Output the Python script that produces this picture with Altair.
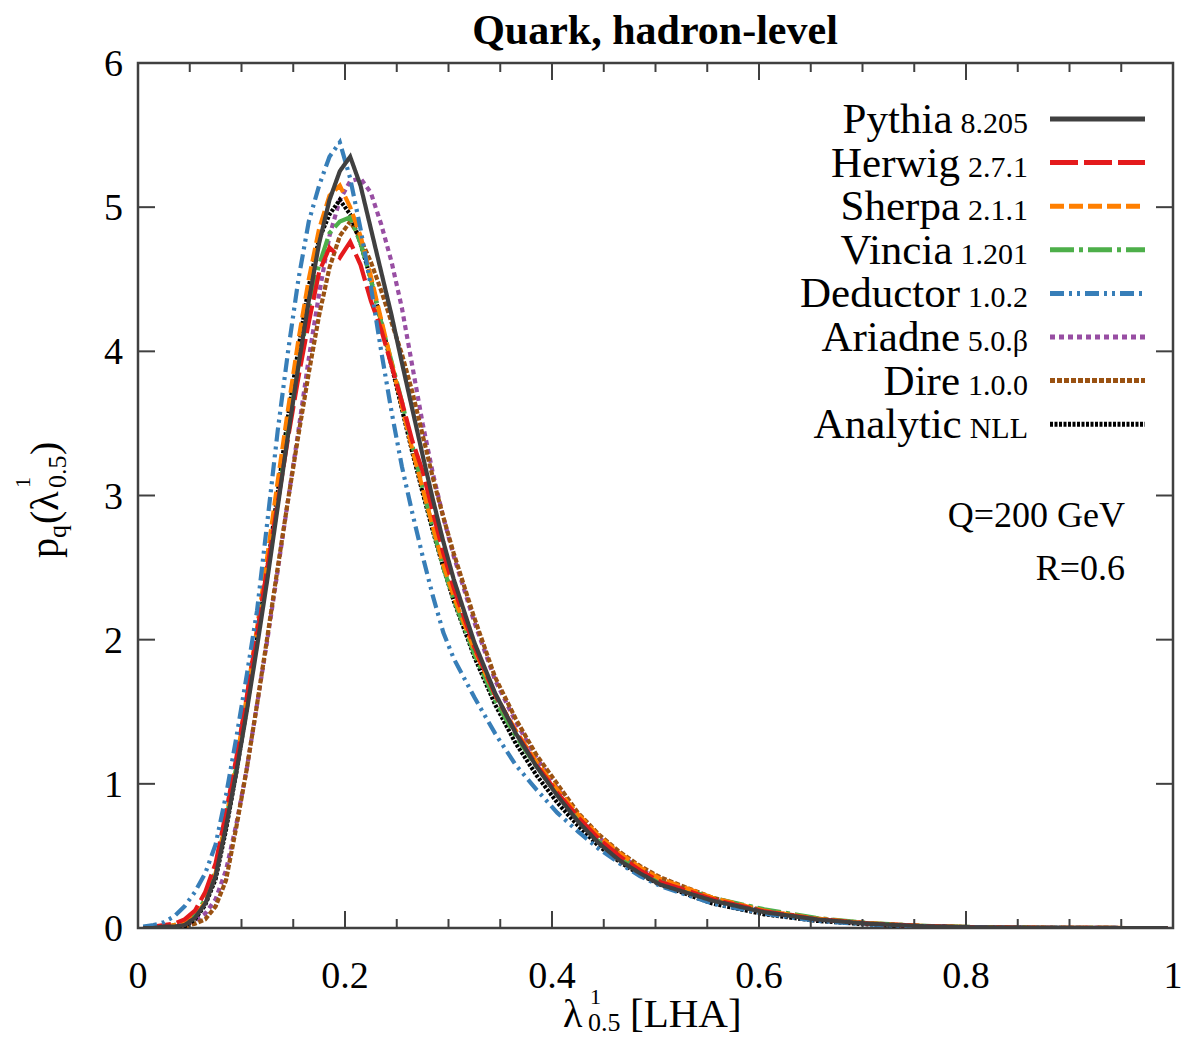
import altair as alt
import pandas as pd

# ---------------- data ----------------
X = [0.005, 0.015, 0.025, 0.035, 0.045, 0.055, 0.065, 0.075, 0.085, 0.095,
     0.105, 0.115, 0.125, 0.135, 0.145, 0.155, 0.165, 0.175, 0.185, 0.195,
     0.205, 0.215, 0.225, 0.235, 0.245, 0.255, 0.265, 0.275, 0.285, 0.295,
     0.305, 0.325, 0.345, 0.365, 0.385, 0.405, 0.425, 0.445, 0.465, 0.485,
     0.505, 0.555, 0.605, 0.655, 0.705, 0.755, 0.805, 0.855, 0.905, 0.955, 0.995]

PYTHIA = [0.0, 0.0, 0.01, 0.01, 0.02, 0.07, 0.17, 0.36, 0.70, 1.08,
          1.50, 1.95, 2.42, 2.92, 3.42, 3.90, 4.35, 4.75, 5.05, 5.25,
          5.35, 5.15, 4.85, 4.55, 4.25, 3.92, 3.60, 3.28, 2.97, 2.68,
          2.42, 1.98, 1.63, 1.35, 1.12, 0.92, 0.74, 0.59, 0.47, 0.38,
          0.30, 0.19, 0.11, 0.06, 0.03, 0.013, 0.005, 0.002, 0.001, 0.0, 0.0]
HERWIG = [0.0, 0.01, 0.02, 0.03, 0.06, 0.12, 0.25, 0.45, 0.80, 1.18,
          1.60, 2.05, 2.50, 2.95, 3.40, 3.82, 4.20, 4.55, 4.72, 4.65,
          4.76, 4.60, 4.35, 4.15, 3.90, 3.65, 3.38, 3.17, 2.88, 2.60,
          2.36, 1.95, 1.62, 1.36, 1.13, 0.94, 0.77, 0.62, 0.50, 0.40,
          0.32, 0.20, 0.115, 0.062, 0.031, 0.014, 0.006, 0.002, 0.001, 0.0, 0.0]
SHERPA = [0.0, 0.0, 0.01, 0.02, 0.03, 0.08, 0.18, 0.38, 0.75, 1.15,
          1.60, 2.08, 2.58, 3.10, 3.60, 4.08, 4.50, 4.85, 5.08, 5.15,
          5.00, 4.80, 4.52, 4.22, 3.92, 3.62, 3.32, 3.05, 2.78, 2.52,
          2.30, 1.93, 1.62, 1.37, 1.15, 0.96, 0.79, 0.64, 0.52, 0.42,
          0.34, 0.21, 0.12, 0.065, 0.033, 0.015, 0.006, 0.002, 0.001, 0.0, 0.0]
VINCIA = [0.0, 0.01, 0.01, 0.02, 0.04, 0.09, 0.20, 0.40, 0.75, 1.12,
          1.55, 2.00, 2.45, 2.95, 3.45, 3.90, 4.30, 4.60, 4.82, 4.90,
          4.93, 4.75, 4.50, 4.20, 3.93, 3.65, 3.35, 3.05, 2.77, 2.50,
          2.28, 1.90, 1.58, 1.33, 1.12, 0.93, 0.75, 0.60, 0.49, 0.40,
          0.32, 0.21, 0.13, 0.07, 0.035, 0.016, 0.007, 0.003, 0.001, 0.0, 0.0]
DEDUCTOR = [0.01, 0.02, 0.04, 0.08, 0.15, 0.25, 0.38, 0.58, 0.92, 1.32,
            1.75, 2.20, 2.82, 3.45, 4.00, 4.50, 4.90, 5.15, 5.35, 5.45,
            5.20, 4.85, 4.45, 4.00, 3.58, 3.20, 2.88, 2.58, 2.30, 2.05,
            1.87, 1.60, 1.35, 1.13, 0.96, 0.80, 0.67, 0.55, 0.45, 0.36,
            0.29, 0.17, 0.10, 0.05, 0.025, 0.01, 0.004, 0.001, 0.0, 0.0, 0.0]
ARIADNE = [0.0, 0.0, 0.0, 0.01, 0.02, 0.05, 0.10, 0.20, 0.40, 0.72,
           1.10, 1.55, 2.00, 2.48, 2.97, 3.45, 3.95, 4.40, 4.80, 5.05,
           5.18, 5.20, 5.10, 4.88, 4.62, 4.30, 3.90, 3.50, 3.15, 2.85,
           2.58, 2.12, 1.72, 1.43, 1.18, 0.97, 0.78, 0.63, 0.51, 0.41,
           0.33, 0.20, 0.115, 0.062, 0.031, 0.014, 0.006, 0.002, 0.001, 0.0, 0.0]
DIRE = [0.0, 0.0, 0.0, 0.0, 0.01, 0.03, 0.06, 0.15, 0.33, 0.70,
        1.10, 1.55, 2.02, 2.50, 2.97, 3.42, 3.85, 4.25, 4.58, 4.80,
        4.90, 4.78, 4.62, 4.42, 4.20, 3.98, 3.72, 3.42, 3.12, 2.85,
        2.60, 2.15, 1.74, 1.45, 1.20, 1.00, 0.80, 0.65, 0.53, 0.43,
        0.35, 0.21, 0.12, 0.065, 0.033, 0.015, 0.006, 0.002, 0.001, 0.0, 0.0]
ANALYTIC = [0.0, 0.0, 0.0, 0.0, 0.01, 0.06, 0.16, 0.34, 0.68, 1.08,
            1.52, 2.00, 2.50, 3.02, 3.55, 4.02, 4.45, 4.78, 4.95, 5.05,
            4.95, 4.75, 4.50, 4.20, 3.90, 3.60, 3.30, 3.02, 2.75, 2.50,
            2.27, 1.88, 1.55, 1.28, 1.06, 0.87, 0.71, 0.57, 0.46, 0.37,
            0.30, 0.17, 0.095, 0.05, 0.025, 0.011, 0.004, 0.001, 0.0, 0.0, 0.0]

NAMES = ["Pythia", "Herwig", "Sherpa", "Vincia", "Deductor", "Ariadne", "Dire", "Analytic"]
VERSIONS = ["8.205", "2.7.1", "2.1.1", "1.201", "1.0.2", "5.0.β", "1.0.0", "NLL"]
VALUES = [PYTHIA, HERWIG, SHERPA, VINCIA, DEDUCTOR, ARIADNE, DIRE, ANALYTIC]

X_MAJOR = [0, 0.2, 0.4, 0.6, 0.8, 1.0]
X_MINOR = [0.05, 0.1, 0.15, 0.25, 0.3, 0.35, 0.45, 0.5, 0.55, 0.65, 0.7, 0.75, 0.85, 0.9, 0.95]
Y_MAJOR = [0, 1, 2, 3, 4, 5, 6]

TITLE = "Quark, hadron-level"
NOTES = ["Q=200 GeV", "R=0.6"]

# ---------------- style ----------------
COLORS = ["#404040", "#e41a1c", "#ff7f00", "#4daf4a", "#377eb8", "#984ea3", "#9a5212", "#000000"]
DASHES = [[1, 0], [28, 6], [14, 5], [24, 5, 4, 5], [14, 5, 3, 5, 3, 5], [5, 4], [5, 2], [3, 1.5]]
DRAW_ORDER = ["Ariadne", "Dire", "Analytic", "Vincia", "Sherpa", "Herwig", "Deductor", "Pythia"]
FONT = "Liberation Serif"
W, H = 1035, 865
XMAX, YMAX = 1.0, 6.0


def dxv(px):  # plot-pixel -> data x
    return px / W * XMAX


def dyv(py):  # plot-pixel -> data y
    return YMAX * (1 - py / H)


rows = []
for name in DRAW_ORDER:
    vals = VALUES[NAMES.index(name)]
    for xv, yv in zip(X, vals):
        rows.append({"series": name, "x": xv, "y": yv})
df = pd.DataFrame(rows)

xs = alt.Scale(domain=[0, XMAX], nice=False, zero=False)
ys = alt.Scale(domain=[0, YMAX], nice=False, zero=False)
cscale = alt.Scale(domain=NAMES, range=COLORS)
dscale = alt.Scale(domain=NAMES, range=DASHES)

curves = alt.Chart(df).mark_line(strokeWidth=4.2, clip=True).encode(
    x=alt.X("x:Q", scale=xs, axis=None),
    y=alt.Y("y:Q", scale=ys, axis=None),
    color=alt.Color("series:N", scale=cscale, legend=None),
    strokeDash=alt.StrokeDash("series:N", scale=dscale, legend=None),
    order=alt.Order("x:Q"),
)

# ---------------- inward ticks on all four sides ----------------
TICK_COLOR = "#404040"


def xticks(vals, length, top):
    d = pd.DataFrame({"v": vals})
    y0, y1 = (0, length) if top else (H, H - length)
    return alt.Chart(d).mark_rule(color=TICK_COLOR, strokeWidth=2).encode(
        x=alt.X("v:Q", scale=xs, axis=None), y=alt.value(y0), y2=alt.value(y1))


def yticks(vals, length, right):
    d = pd.DataFrame({"v": vals})
    x0, x1 = (W, W - length) if right else (0, length)
    return alt.Chart(d).mark_rule(color=TICK_COLOR, strokeWidth=2).encode(
        y=alt.Y("v:Q", scale=ys, axis=None), x=alt.value(x0), x2=alt.value(x1))


ticks = [xticks(X_MAJOR, 17, False), xticks(X_MINOR, 9, False),
         xticks(X_MAJOR, 17, True), xticks(X_MINOR, 9, True),
         yticks(Y_MAJOR, 17, False), yticks(Y_MAJOR, 17, True)]

# tick labels, placed through the same scales
xlabels = alt.Chart(pd.DataFrame({"v": X_MAJOR})).mark_text(
    align="center", baseline="alphabetic", font=FONT, fontSize=38, color="black").encode(
    x=alt.X("v:Q", scale=xs, axis=None), y=alt.value(H + 60),
    text=alt.Text("v:Q", format="~g"))
ylabels = alt.Chart(pd.DataFrame({"v": Y_MAJOR})).mark_text(
    align="right", baseline="alphabetic", font=FONT, fontSize=38, color="black", dy=13).encode(
    y=alt.Y("v:Q", scale=ys, axis=None), x=alt.value(-15),
    text=alt.Text("v:Q", format="d"))

# ---------------- legend (drawn inside the plot) ----------------
CHARW = {".": 0.25, "N": 0.722, "L": 0.611}
VER_SIZE, NAME_SIZE = 30, 43
ROW0, ROWSTEP = 56, 43.6
VER_RIGHT = 890
SAMPLE_X0, SAMPLE_X1 = 912, 1007

leg_rows = []
for i, (nm, vr) in enumerate(zip(NAMES, VERSIONS)):
    vw = sum(CHARW.get(c, 0.5) for c in vr) * VER_SIZE
    center = ROW0 + ROWSTEP * i
    leg_rows.append({
        "series": nm, "name": nm, "version": vr,
        "vx": dxv(VER_RIGHT), "nx": dxv(VER_RIGHT - vw - 8),
        "ty": dyv(center + 14), "ly": dyv(center),
        "lx0": dxv(SAMPLE_X0), "lx1": dxv(SAMPLE_X1),
    })
leg = pd.DataFrame(leg_rows)

leg_lines = alt.Chart(leg).mark_rule(strokeWidth=5).encode(
    x=alt.X("lx0:Q", scale=xs, axis=None), x2="lx1:Q",
    y=alt.Y("ly:Q", scale=ys, axis=None),
    color=alt.Color("series:N", scale=cscale, legend=None),
    strokeDash=alt.StrokeDash("series:N", scale=dscale, legend=None),
)
leg_names = alt.Chart(leg).mark_text(align="right", baseline="alphabetic", font=FONT,
                                     fontSize=NAME_SIZE, color="black").encode(
    x=alt.X("nx:Q", scale=xs, axis=None), y=alt.Y("ty:Q", scale=ys, axis=None), text="name:N")
leg_vers = alt.Chart(leg).mark_text(align="right", baseline="alphabetic", font=FONT,
                                    fontSize=VER_SIZE, color="black").encode(
    x=alt.X("vx:Q", scale=xs, axis=None), y=alt.Y("ty:Q", scale=ys, axis=None), text="version:N")

notes = alt.Chart(pd.DataFrame({
    "t": NOTES, "x": [dxv(987), dxv(987)], "y": [dyv(464), dyv(517)]
})).mark_text(align="right", baseline="alphabetic", font=FONT, fontSize=36, color="black").encode(
    x=alt.X("x:Q", scale=xs, axis=None), y=alt.Y("y:Q", scale=ys, axis=None), text="t:N")


# ---------------- titles with sub/superscripts ----------------
def piece(text, px, py, size, angle=0, weight="normal", align="left"):
    return alt.Chart(pd.DataFrame({"t": [text]})).mark_text(
        align=align, baseline="alphabetic", font=FONT, fontSize=size, fontWeight=weight,
        color="black", angle=angle).encode(x=alt.value(px), y=alt.value(py), text="t:N")


title = piece(TITLE, 517, -19, 42, weight="bold", align="center")

ytitle = [
    piece("p", -80, 495, 40, 270),
    piece("q", -72, 475, 26, 270),
    piece("(λ", -80, 461, 40, 270),
    piece("1", -108, 425, 22, 270),
    piece("0.5", -72, 425, 26, 270),
    piece(")", -80, 392, 40, 270),
]
xtitle = [
    piece("λ", 425, 964, 40),
    piece("1", 452, 941, 22),
    piece("0.5", 450, 968, 26),
    piece("[LHA]", 492, 964, 41),
]

chart = alt.layer(
    curves, *ticks, xlabels, ylabels, leg_lines, leg_names, leg_vers, notes,
    title, *ytitle, *xtitle
).properties(
    width=W, height=H,
    autosize=alt.AutoSizeParams(type="none"),
    padding={"left": 130, "top": 55, "right": 8, "bottom": 109},
).configure_view(stroke="#404040", strokeWidth=2.5)

chart.save("out.html", embed_options={"renderer": "svg", "actions": False})
